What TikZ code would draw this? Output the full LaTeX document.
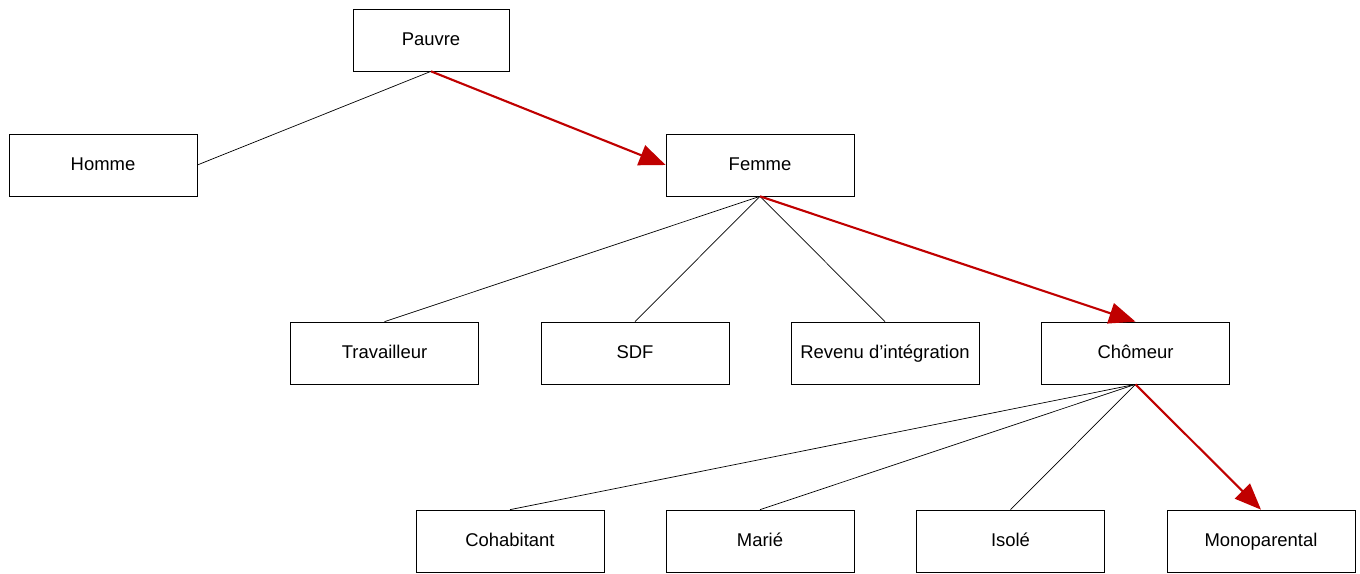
\documentclass[tikz,border=0pt]{standalone}
\usepackage{fontspec}
\setmainfont{Liberation Sans}
\usetikzlibrary{arrows.meta}
\definecolor{pathred}{RGB}{192,0,0}
\tikzset{
  box/.style={rectangle,draw,minimum width=3.76cm,minimum height=1.24cm,
    inner sep=0pt,text height=1.6ex,text depth=.4ex,
    font=\fontsize{10.5}{12}\selectfont},
  redpath/.style={draw=pathred,line width=1.2pt,
    -{Triangle[length=15pt,width=12pt]}}
}
\begin{document}
\begin{tikzpicture}[x=0.02cm,y=-0.02cm]
  \useasboundingbox (0,0) rectangle (1360,574);

  \begin{scope}[every node/.style={box}]
    \node (pauvre) at (431,40) [minimum width=3.12cm] {Pauvre};
    \node (homme) at (103,165) {Homme};
    \node (femme) at (760,165) {Femme};
    \node (travailleur) at (384.5,353) {Travailleur};
    \node (sdf) at (635,353) {SDF};
    \node (revenu) at (885,353) {Revenu d’intégration};
    \node (chomeur) at (1135.5,353) {Chômeur};
    \node (cohabitant) at (510,541) {Cohabitant};
    \node (marie) at (760,541) {Marié};
    \node (isole) at (1010.5,541) {Isolé};
    \node (mono) at (1261,541) {Monoparental};
  \end{scope}

  \begin{scope}[every edge/.style={draw,thin}]
    \path (pauvre.south) edge (homme.east);
    \path (femme.south) edge (travailleur.north);
    \path (femme.south) edge (sdf.north);
    \path (femme.south) edge (revenu.north);
    \path (chomeur.south) edge (cohabitant.north);
    \path (chomeur.south) edge (marie.north);
    \path (chomeur.south) edge (isole.north);
  \end{scope}

  \begin{scope}[every edge/.style={redpath}]
    \path (pauvre.south) edge (femme.west);
    \path (femme.south) edge (chomeur.north);
    \path (chomeur.south) edge (mono.north);
  \end{scope}

\end{tikzpicture}
\end{document}
